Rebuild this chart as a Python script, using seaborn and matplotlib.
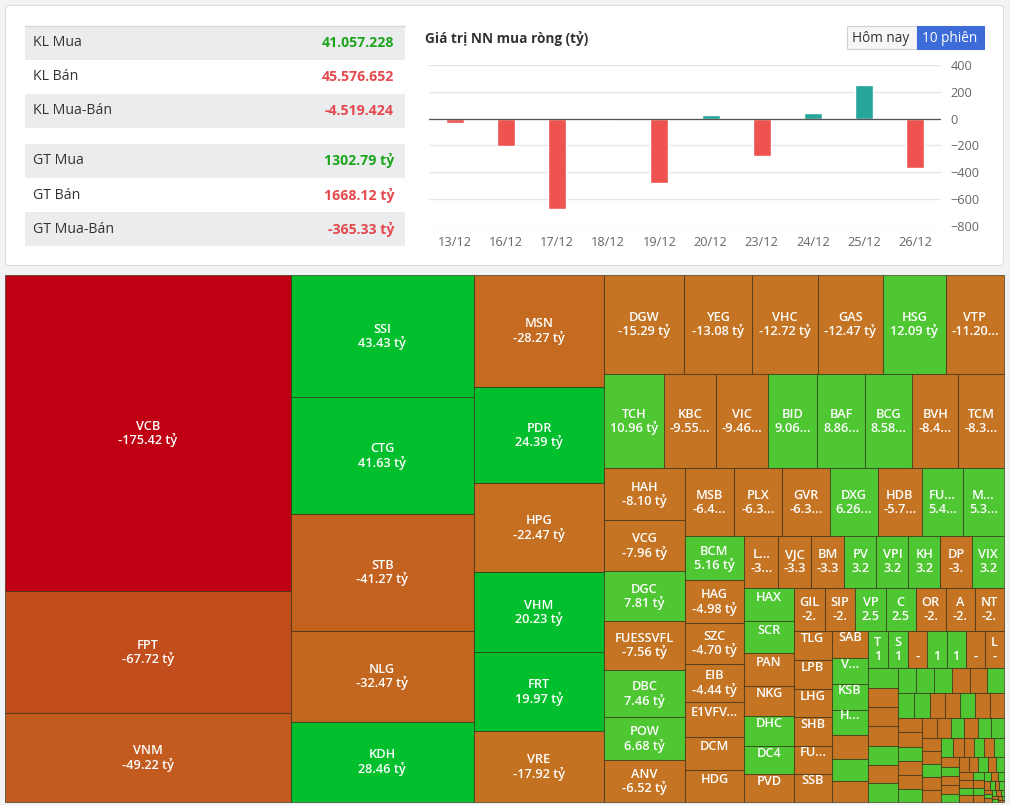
import numpy as np
import pandas as pd
import matplotlib
matplotlib.use('Agg')
import matplotlib.pyplot as plt
from matplotlib.patches import Rectangle, FancyBboxPatch
from matplotlib.font_manager import FontProperties
from matplotlib.colors import to_rgb
import seaborn as sns

sns.set_theme(style='white')
plt.rcParams['font.family'] = ['Open Sans', 'DejaVu Sans']

### summary table
table_labels = ['KL Mua', 'KL Bán', 'KL Mua-Bán', 'GT Mua', 'GT Bán', 'GT Mua-Bán']
volumes = [41057228, 45576652, -4519424]
values_ty = [1302.79, 1668.12, -365.33]

### net foreign buying over 10 sessions (ty)
dates = ['13/12', '16/12', '17/12', '18/12', '19/12', '20/12', '23/12', '24/12', '25/12', '26/12']
net_buy = [-32, -206, -673, -10, -479, 27, -281, 40, 251, -365.33]

### treemap: net value by ticker (ty), names as readable in the picture
tickers = ['VCB', 'FPT', 'VNM', 'SSI', 'CTG', 'STB', 'NLG', 'KDH', 'MSN', 'PDR',
           'HPG', 'VHM', 'FRT', 'VRE', 'DGW', 'YEG', 'VHC', 'GAS', 'HSG', 'VTP',
           'TCH', 'KBC', 'VIC', 'BID', 'BAF', 'BCG', 'BVH', 'TCM',
           'HAH', 'VCG', 'DGC', 'FUESSVFL', 'DBC', 'POW', 'ANV',
           'MSB', 'PLX', 'GVR', 'DXG', 'HDB', 'FU...', 'M...',
           'BCM', 'HAG', 'SZC', 'EIB', 'E1VFV...', 'DCM', 'HDG',
           'L...', 'VJC', 'BM', 'PV', 'VPI', 'KH', 'DP', 'VIX',
           'HAX', 'SCR', 'PAN', 'NKG', 'DHC', 'DC4', 'PVD',
           'GIL', 'SIP', 'VP', 'C', 'OR', 'A', 'NT',
           'TLG', 'LPB', 'LHG', 'SHB', 'FU...', 'SSB',
           'SAB', 'V...', 'KSB', 'H...', '', '', '',
           'T', 'S', '', '', '', '', 'L']
net_values = [-175.42, -67.72, -49.22, 43.43, 41.63, -41.27, -32.47, 28.46, -28.27, 24.39,
              -22.47, 20.23, 19.97, -17.92, -15.29, -13.08, -12.72, -12.47, 12.09, -11.20,
              10.96, -9.55, -9.46, 9.06, 8.86, 8.58, -8.45, -8.35,
              -8.10, -7.96, 7.81, -7.56, 7.46, 6.68, -6.52,
              -6.45, -6.35, -6.30, 6.26, -5.75, 5.45, 5.35,
              5.16, -4.98, -4.70, -4.44, -4.09, -3.86, -3.72,
              -3.40, -3.35, -3.30, 3.25, 3.24, 3.22, -3.21, 3.20,
              3.16, 3.10, -3.08, -2.90, 2.86, 2.72, -2.64,
              -2.62, -2.58, 2.55, 2.53, -2.50, -2.47, -2.45,
              -2.16, -2.15, -2.14, -2.12, -2.11, -2.10,
              -1.85, 1.83, 1.80, 1.76, -1.62, 1.55, -1.45,
              1.42, 1.40, -1.39, 1.38, 1.37, -1.36, -1.36]
# small unlabeled tickers at the bottom right corner
tail_values = [1.16, -1.15, -1.14, -1.13, 1.12, -1.11, 1.10,
               0.88, 0.87, 0.86, -0.85, -0.84, 0.83,
               0.76, 0.75, -0.74, -0.73, 0.72, -0.71, -0.70,
               -0.68, -0.67, 0.66, -0.65, -0.64, 0.63,
               -0.55, -0.54, 0.53, -0.52, 0.51, 0.50, -0.49,
               -0.48, 0.47, -0.46, -0.45, 0.44,
               -0.40, -0.39, 0.38, -0.37, 0.36, -0.35,
               0.32, -0.31, -0.30, 0.29, -0.28, -0.27, 0.26,
               -0.24, 0.23, -0.22, -0.21, 0.20, -0.19, 0.18,
               -0.16, 0.15, -0.14, 0.13, -0.12, 0.11, -0.10,
               0.09, -0.08, 0.08, -0.07, 0.07, -0.06, 0.05, -0.05,
               0.04, -0.04, 0.03, -0.03, 0.02, -0.02]

df = pd.DataFrame({'ticker': tickers + [''] * len(tail_values),
                   'value': net_values + tail_values})
df['size'] = df['value'].abs()
df = df.sort_values('size', ascending=False, kind='stable').reset_index(drop=True)

W, H = 1010, 805
fig = plt.figure(figsize=(W / 100, H / 100), dpi=100)
fig.patch.set_facecolor('#f2f3f5')
bg = fig.add_axes([0, 0, 1, 1])
bg.set_xlim(0, W)
bg.set_ylim(H, 0)
bg.axis('off')
renderer = fig.canvas.get_renderer()

### top card
bg.add_patch(FancyBboxPatch((5.5, 5.5), 998, 260, boxstyle='round,pad=0,rounding_size=3',
                            facecolor='white', edgecolor='#dcdde0', lw=0.8))

row_tops = [26, 60, 94, 144, 178, 212]
shaded = [0, 2, 3, 5]
for i, lab in enumerate(table_labels):
    top = row_tops[i]
    if i in shaded:
        bg.add_patch(Rectangle((25, top), 380, 34, facecolor='#ebecee', edgecolor='none'))
    bg.text(33, top + 17, lab, fontsize=10.2, color='#333333', va='center', ha='left')
    if i < 3:
        v = volumes[i]
        txt = f'{v:,}'.replace(',', '.')
    else:
        v = values_ty[i - 3]
        txt = f'{v:.2f} tỷ'
    col = '#1ea51e' if (i % 3 == 0) else '#e5484d'
    bg.text(394, top + 17, txt, fontsize=10.2, color=col, va='center', ha='right', fontweight='bold')
bg.plot([25, 405], [26, 26], color='#d6d7da', lw=1)

bg.text(425, 39, 'Giá trị NN mua ròng (tỷ)', fontsize=9.8, fontweight='bold', color='#333333',
        va='center', ha='left')
bg.add_patch(Rectangle((846.5, 26.5), 70, 23, facecolor='#f6f6f6', edgecolor='#cfd1d4', lw=0.8))
bg.text(881, 38, 'Hôm nay', fontsize=9.8, color='#333333', va='center', ha='center')
bg.add_patch(Rectangle((916.5, 26.5), 67, 23, facecolor='#3d6bd8', edgecolor='#3d6bd8', lw=0.8))
bg.text(950, 38, '10 phiên', fontsize=9.8, color='white', va='center', ha='center')

### bar chart
ax = fig.add_axes([429 / W, (H - 226) / H, 512 / W, 161 / H])
bars = pd.DataFrame({'date': dates, 'value': net_buy})
bars['side'] = np.where(bars['value'] >= 0, 'buy', 'sell')
sns.barplot(data=bars, x='date', y='value', hue='side', dodge=False, width=0.35, saturation=1,
            palette={'buy': '#26a69a', 'sell': '#ef5350'}, legend=False, ax=ax)
ax.set_xlim(-0.5, len(dates) - 0.5)
ax.set_ylim(-800, 400)
ax.set_yticks(range(-800, 401, 200))
ax.yaxis.tick_right()
ax.grid(axis='y', color='#e6e6e6', lw=1)
ax.set_axisbelow(True)
ax.axhline(0, color='#555555', lw=0.9, zorder=1)
for s in ax.spines.values():
    s.set_visible(False)
ax.tick_params(axis='both', length=0, colors='#666666', labelsize=9.2)
ax.tick_params(axis='y', pad=7)
ax.tick_params(axis='x', pad=7)
ax.set_xlabel('')
ax.set_ylabel('')
ax.patch.set_alpha(0)


### treemap (echarts style squarify)
def squarify(areas, x, y, w, h, ratio=(1 + 5 ** 0.5) / 2):
    out = [None] * len(areas)
    rect = [x, y, w, h]

    def worst(row, fixed):
        s = sum(areas[k] for k in row)
        f = fixed * fixed * ratio
        amax = max(areas[k] for k in row)
        amin = min(areas[k] for k in row)
        return max(f * amax / s ** 2, s ** 2 / (f * amin))

    def place(row, fixed, flush):
        s = sum(areas[k] for k in row)
        horiz = fixed == rect[2]
        other = s / fixed
        lim = rect[3] if horiz else rect[2]
        if flush or other > lim:
            other = lim
        last = rect[0] if horiz else rect[1]
        end = rect[0] + rect[2] if horiz else rect[1] + rect[3]
        for j, k in enumerate(row):
            step = areas[k] / other
            remain = end - last
            mod = remain if (j == len(row) - 1 or remain < step) else step
            out[k] = (last, rect[1], mod, other) if horiz else (rect[0], last, other, mod)
            last += mod
        if horiz:
            rect[1] += other
            rect[3] -= other
        else:
            rect[0] += other
            rect[2] -= other

    fixed = min(w, h)
    best = np.inf
    row = []
    i = 0
    while i < len(areas):
        row.append(i)
        score = worst(row, fixed)
        if score <= best:
            i += 1
            best = score
        else:
            row.pop()
            place(row, fixed, False)
            fixed = min(rect[2], rect[3])
            row = []
            best = np.inf
    if row:
        place(row, fixed, True)
    return out


def mix(c1, c2, t):
    a, b = np.array(to_rgb(c1)), np.array(to_rgb(c2))
    return tuple(a + (b - a) * t)


def cell_color(v):
    if v < 0:
        return mix('#c47422', '#bf0012', np.clip((-v - 15) / 160, 0, 1))
    return mix('#4fc733', '#02bf2d', np.clip((v - 12) / 8, 0, 1))


lab_font = FontProperties(family=['Open Sans', 'DejaVu Sans'], size=9.2, weight='semibold')


def text_w(s):
    if not s:
        return 0
    return renderer.get_text_width_height_descent(s, lab_font, ismath=False)[0]


def fit(s, avail):
    if text_w(s) <= avail:
        return s
    if avail >= 23.5:
        for n in range(len(s) - 1, 0, -1):
            p = s[:n].rstrip('. ')
            if p and text_w(p + '...') <= avail:
                return p + '...'
    for n in range(len(s) - 1, 0, -1):
        if text_w(s[:n]) <= avail:
            return s[:n]
    return ''


X0, Y0, TW, TH = 5, 275, 999, 527
total = df['size'].sum()
areas = list(df['size'] / total * TW * TH)
rects = squarify(areas, X0, Y0, TW, TH)
lh = 14
for (x, y, w, h), name, v in zip(rects, df['ticker'], df['value']):
    bg.add_patch(Rectangle((x, y), w, h, facecolor=cell_color(v),
                           edgecolor=(0.15, 0.12, 0.05, 0.55), lw=0.75))
    nlines = int((h - 8) // lh)
    if nlines < 1:
        continue
    avail = w - 10
    cx, cy = x + w / 2, y + h / 2
    t1 = fit(name, avail)
    if t1:
        bg.text(cx, cy - lh / 2, t1, fontproperties=lab_font, color='white', ha='center', va='center')
    if nlines >= 2:
        t2 = fit(f'{v:.2f} tỷ', avail)
        if t2:
            bg.text(cx, cy + lh / 2, t2, fontproperties=lab_font, color='white', ha='center', va='center')

fig.savefig('out.png', dpi=100, facecolor=fig.get_facecolor())
